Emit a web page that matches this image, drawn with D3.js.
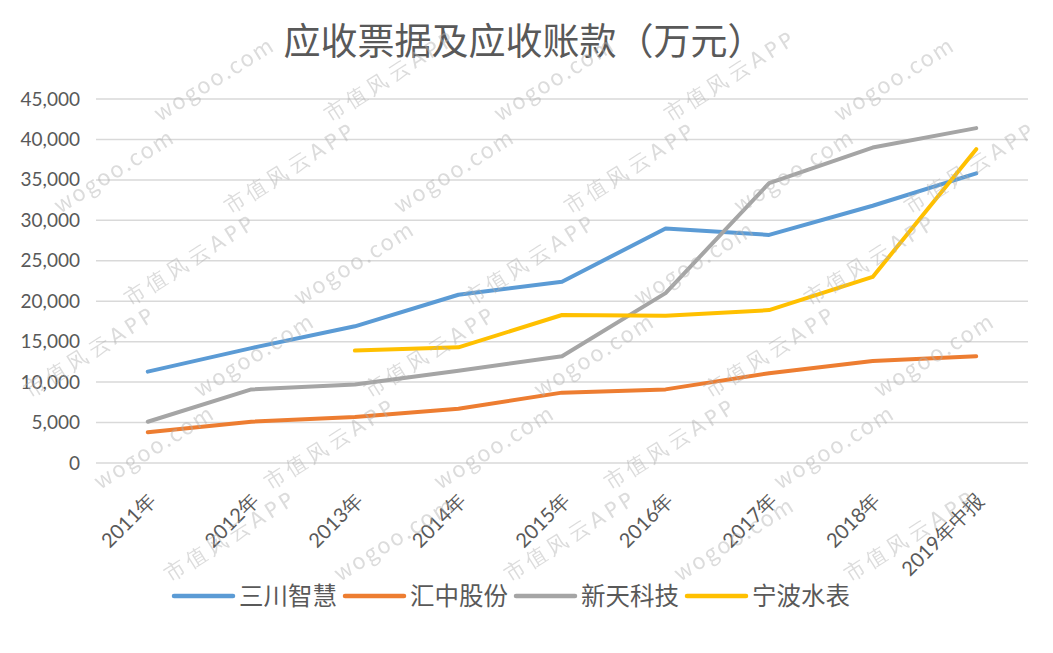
<!DOCTYPE html>
<html>
<head>
<meta charset="utf-8">
<script src="https://cdn.jsdelivr.net/npm/d3@7"></script>
<style>
  body { margin: 0; background: #fff; }
  svg { display: block; }
</style>
</head>
<body>
<div id="container"></div>
<script>
const width = 1053;
const height = 653;

// data
const categories = ["2011年", "2012年", "2013年", "2014年", "2015年", "2016年", "2017年", "2018年", "2019年中报"];
const sanchuan = [11300, 14200, 16900, 20800, 22400, 29000, 28200, 31800, 35800];
const huizhong = [3800, 5100, 5700, 6700, 8700, 9100, 11100, 12600, 13200];
const xintian = [5100, 9100, 9700, 11400, 13200, 21000, 34600, 39000, 41400];
const ningbo = [null, null, 13900, 14300, 18300, 18200, 18900, 23000, 38800];
const yTicks = [0, 5000, 10000, 15000, 20000, 25000, 30000, 35000, 40000, 45000];

const seriesNames = ["三川智慧", "汇中股份", "新天科技", "宁波水表"];
const seriesValues = [sanchuan, huizhong, xintian, ningbo];
const colors = ["#5B9BD5", "#ED7D31", "#A5A5A5", "#FFC000"];

const textColor = "#595959";
const cjk = "'Noto Sans CJK SC', 'Noto Sans', sans-serif";
const num = "Lato, 'Noto Sans', sans-serif";

const svg = d3.select("#container")
  .append("svg")
  .attr("width", width)
  .attr("height", height);

const x = d3.scalePoint()
  .domain(categories)
  .range([96, 1028])
  .padding(0.5);

const y = d3.scaleLinear()
  .domain([0, 45000])
  .range([463, 99]);

// title
svg.append("text")
  .attr("x", 524)
  .attr("y", 55)
  .attr("text-anchor", "middle")
  .attr("fill", textColor)
  .style("font-family", cjk)
  .style("font-size", "37px")
  .text("应收票据及应收账款（万元）");

// gridlines
svg.append("g")
  .selectAll("line")
  .data(yTicks)
  .join("line")
  .attr("x1", 96)
  .attr("x2", 1028)
  .attr("y1", d => y(d))
  .attr("y2", d => y(d))
  .attr("stroke", "#D9D9D9")
  .attr("stroke-width", 1.5);

// y axis labels
const yAxis = svg.append("g")
  .attr("transform", "translate(96,0)")
  .call(d3.axisLeft(y).tickValues(yTicks).tickSize(0).tickPadding(16).tickFormat(d3.format(",")));
yAxis.select(".domain").remove();
yAxis.selectAll("text")
  .attr("fill", textColor)
  .style("font-family", num)
  .style("font-size", "19px");

// x axis labels, rotated
svg.append("g")
  .selectAll("text")
  .data(categories)
  .join("text")
  .attr("transform", d => `translate(${x(d) + 4},${497}) rotate(-45)`)
  .attr("text-anchor", "end")
  .attr("dy", "0.35em")
  .attr("fill", textColor)
  .style("font-family", num)
  .style("font-size", "20px")
  .text(d => d);

// lines
const line = d3.line()
  .defined(d => d.v != null)
  .x(d => x(d.c))
  .y(d => y(d.v));

svg.append("g")
  .selectAll("path")
  .data(seriesValues)
  .join("path")
  .attr("d", vals => line(vals.map((v, i) => ({ c: categories[i], v }))))
  .attr("fill", "none")
  .attr("stroke", (d, i) => colors[i])
  .attr("stroke-width", 4)
  .attr("stroke-linejoin", "round")
  .attr("stroke-linecap", "round");

// legend
const legend = svg.append("g").attr("transform", "translate(0,596)");
let lx = 174;
seriesNames.forEach((name, i) => {
  const g = legend.append("g").attr("transform", `translate(${lx},0)`);
  g.append("line")
    .attr("x1", 0).attr("x2", 59)
    .attr("stroke", colors[i])
    .attr("stroke-width", 4.5)
    .attr("stroke-linecap", "round");
  const t = g.append("text")
    .attr("x", 65)
    .attr("dy", "0.35em")
    .attr("fill", textColor)
    .style("font-family", cjk)
    .style("font-size", "24.5px")
    .text(name);
  lx += 65 + t.node().getComputedTextLength() + 8;
});

// watermark (only copies fully inside the picture are kept)
const wm = svg.append("g")
  .attr("fill", "#b0b0b0")
  .attr("opacity", 0.45)
  .style("pointer-events", "none");
const marks = ["市值风云APP", "wogoo.com"];
for (let r = -8; r < 18; r++) {
  for (let c = -3; c < 12; c++) {
    const k = (r + c + 100) % 2;
    const t = wm.append("text")
      .attr("transform", `translate(${c * 170 + r * 70 - 250},${r * 92 + 30}) rotate(-32)`)
      .style("font-family", k ? "'Noto Sans CJK SC', sans-serif" : "'DejaVu Sans', sans-serif")
      .style("font-size", k ? "22px" : "21px")
      .style("letter-spacing", k ? "2px" : "4px")
      .text(marks[k]);
    const b = t.node().getBoundingClientRect();
    if (b.left < 0 || b.top < 0 || b.right > width || b.bottom > height) t.remove();
  }
}
</script>
</body>
</html>
